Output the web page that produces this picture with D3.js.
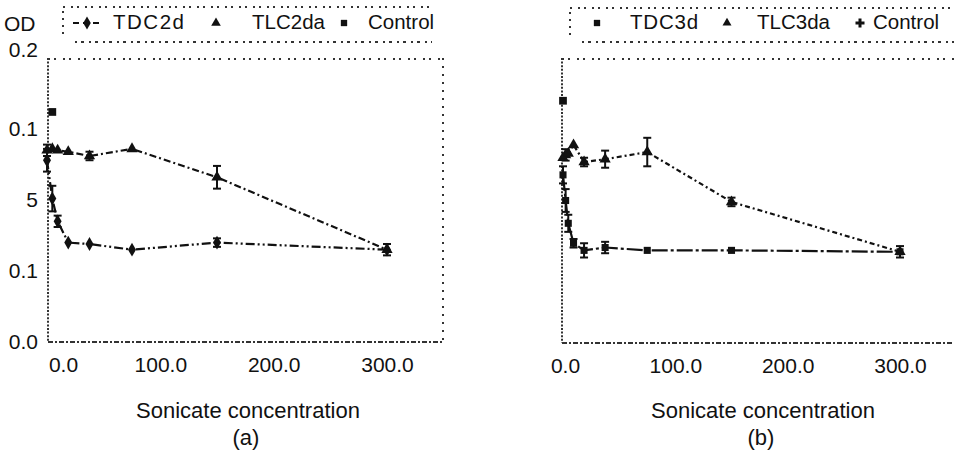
<!DOCTYPE html>
<html><head><meta charset="utf-8">
<script src="https://cdn.jsdelivr.net/npm/d3@7"></script>
<style>
html,body{margin:0;padding:0;background:#fff;}
svg{display:block;font-family:"Liberation Sans",Arial,sans-serif;}
</style></head>
<body>
<svg id="chart" width="954" height="453"></svg>
<script>
// ---------- data ----------
const concA = [0, 4.69, 9.38, 18.75, 37.5, 75, 150, 300];
const tdc2d = [0.128, 0.101, 0.085, 0.070, 0.069, 0.065, 0.070, 0.065];
const tdc2dErr = [0.008, 0.009, 0.004, 0, 0, 0, 0.003, 0];
const tlc2da = [0.135, 0.136, 0.135, 0.134, 0.131, 0.136, 0.116, 0.065];
const tlc2daErr = [0.004, 0, 0, 0, 0.003, 0, 0.008, 0.004];
const controlConcA = [4.69];
const controlA = [0.162];

const concB = [0, 2.34, 4.69, 9.38, 18.75, 37.5, 75, 150, 300];
const tdc3d = [0.118, 0.100, 0.084, 0.070, 0.065, 0.067, 0.065, 0.065, 0.064];
const tdc3dErr = [0.006, 0.008, 0.006, 0.003, 0.005, 0.004, 0, 0, 0];
const tlc3da = [0.130, 0.132, 0.133, 0.139, 0.127, 0.129, 0.134, 0.099, 0.064];
const tlc3daErr = [0, 0.004, 0, 0, 0.003, 0.006, 0.010, 0.003, 0.004];
const controlConcB = [0];
const controlB = [0.170];

const yTickValues = [0, 0.05, 0.1, 0.15, 0.2];
const yTickLabels = ["0.0", "0.1", "5", "0.1", "0.2"];
const xTickValues = [0, 100, 200, 300];
const xTickLabels = ["0.0", "100.0", "200.0", "300.0"];
const legendA = ["TDC2d", "TLC2da", "Control"];
const legendB = ["TDC3d", "TLC3da", "Control"];
const yTitle = "OD";
const xTitle = "Sonicate concentration";
const panelLabels = ["(a)", "(b)"];

// ---------- drawing ----------
const svg = d3.select("#chart");
const ink = "#111";
const frameCol = "#333";

function zip(xs, ys, es) { return xs.map((x, i) => ({x, y: ys[i], e: es ? es[i] : 0})); }

function drawPanel(cfg) {
  const g = svg.append("g");
  const x = d3.scaleLinear().domain([0, 300]).range([cfg.x0, cfg.x300]);
  const y = d3.scaleLinear().domain([0, 0.2]).range([cfg.yb, cfg.yt]);
  const xr = cfg.xRight;

  // frame (dotted)
  g.append("line").attr("x1", cfg.axX).attr("x2", cfg.axX).attr("y1", y(0.2)).attr("y2", y(0))
    .attr("stroke", frameCol).attr("stroke-width", 2).attr("stroke-dasharray", "2,1.6");
  g.append("line").attr("x1", cfg.axX).attr("x2", xr).attr("y1", y(0.2) + 1).attr("y2", y(0.2) + 1)
    .attr("stroke", frameCol).attr("stroke-width", 2).attr("stroke-dasharray", "2,4,2,7");
  g.append("line").attr("x1", cfg.axX).attr("x2", xr).attr("y1", y(0)).attr("y2", y(0))
    .attr("stroke", frameCol).attr("stroke-width", 2).attr("stroke-dasharray", "5,2,2,2");
  if (cfg.rightFrame) {
    g.append("line").attr("x1", xr).attr("x2", xr).attr("y1", y(0.2)).attr("y2", y(0))
      .attr("stroke", frameCol).attr("stroke-width", 2).attr("stroke-dasharray", "2,6");
  }

  // axes (labels only)
  const xAxis = d3.axisBottom(x).tickValues(xTickValues).tickSize(0)
    .tickFormat((d, i) => xTickLabels[i]);
  const gx = g.append("g").attr("transform", `translate(0,${y(0) + 12})`).call(xAxis);
  gx.select(".domain").remove();
  gx.selectAll("text").attr("font-size", 21).attr("fill", ink)
    .attr("font-family", "'Liberation Sans',Arial,sans-serif")
    .attr("dx", (d, i) => i === 0 ? cfg.firstTickDx : 0);

  if (cfg.yLabels) {
    const yAxis = d3.axisLeft(y).tickValues(yTickValues).tickSize(0)
      .tickFormat((d, i) => yTickLabels[i]);
    const gy = g.append("g").attr("transform", `translate(${cfg.axX - 7},0)`).call(yAxis);
    gy.select(".domain").remove();
    gy.selectAll("text").attr("font-size", 21).attr("fill", ink)
      .attr("font-family", "'Liberation Sans',Arial,sans-serif")
      .attr("dy", d => d === 0.2 ? "-0.05em" : "0.32em");
  }

  // series
  cfg.series.forEach(s => {
    const pts = zip(s.xs, s.ys, s.err);
    if (pts.length > 1) {
      g.append("path").datum(pts)
        .attr("d", d3.line().x(d => x(d.x)).y(d => y(d.y)))
        .attr("fill", "none").attr("stroke", ink).attr("stroke-width", 2.2)
        .attr("stroke-dasharray", s.dash);
    }
    // error bars
    const eb = g.append("g").attr("stroke", ink).attr("stroke-width", 2);
    pts.filter(d => d.e > 0).forEach(d => {
      eb.append("line").attr("x1", x(d.x)).attr("x2", x(d.x)).attr("y1", y(d.y - d.e)).attr("y2", y(d.y + d.e));
      eb.append("line").attr("x1", x(d.x) - 4).attr("x2", x(d.x) + 4).attr("y1", y(d.y - d.e)).attr("y2", y(d.y - d.e));
      eb.append("line").attr("x1", x(d.x) - 4).attr("x2", x(d.x) + 4).attr("y1", y(d.y + d.e)).attr("y2", y(d.y + d.e));
    });
    g.selectAll(null).data(pts).enter().append("path")
      .attr("transform", d => `translate(${x(d.x)},${y(d.y)})${s.rot ? " rotate(" + s.rot + ")" : ""}`)
      .attr("d", d3.symbol().type(s.symbol).size(s.size))
      .attr("fill", ink);
  });

  // axis title & panel label
  g.append("text").attr("x", cfg.titleX).attr("y", 418).attr("text-anchor", "middle")
    .attr("font-size", 22).attr("fill", ink).text(xTitle);
  g.append("text").attr("x", cfg.titleX - 2).attr("y", 445).attr("text-anchor", "middle")
    .attr("font-size", 22).attr("fill", ink).text(cfg.panelLabel);

  // legend
  const L = cfg.legend;
  const lg = svg.append("g");
  lg.append("line").attr("x1", L.x).attr("x2", L.xr).attr("y1", L.yt).attr("y2", L.yt)
    .attr("stroke", frameCol).attr("stroke-width", 2).attr("stroke-dasharray", "2,6,2,4");
  lg.append("line").attr("x1", L.x + 12).attr("x2", L.xr).attr("y1", L.yb).attr("y2", L.yb)
    .attr("stroke", frameCol).attr("stroke-width", 2).attr("stroke-dasharray", "2,4,3,5");
  lg.append("line").attr("x1", L.x).attr("x2", L.x).attr("y1", L.yt + 4).attr("y2", L.yb - 6)
    .attr("stroke", frameCol).attr("stroke-width", 2).attr("stroke-dasharray", "2,5");
  L.items.forEach((it, i) => {
    if (it.lineDash) {
      lg.append("line").attr("x1", it.mx - 14).attr("x2", it.mx + 14).attr("y1", 23).attr("y2", 23)
        .attr("stroke", ink).attr("stroke-width", 2).attr("stroke-dasharray", it.lineDash);
    }
    lg.append("path").attr("transform", `translate(${it.mx},23)`)
      .attr("d", d3.symbol().type(it.symbol).size(it.size)).attr("fill", ink);
    lg.append("text").attr("x", it.tx).attr("y", 29).attr("font-size", 20.5)
      .attr("fill", ink).attr("letter-spacing", it.ls || 0).text(cfg.legendNames[i]);
  });
}

svg.append("text").attr("x", 4).attr("y", 31).attr("font-size", 21).attr("fill", ink).text(yTitle);

drawPanel({
  x0: 47, x300: 387, axX: 48, xRight: 443, yb: 342, yt: 58, rightFrame: true,
  yLabels: true, firstTickDx: 16, titleX: 248, panelLabel: panelLabels[0],
  legendNames: legendA,
  series: [
    {xs: concA, ys: tlc2da, err: tlc2daErr, dash: "7,3,2,3", symbol: d3.symbolTriangle, size: 55},
    {xs: concA, ys: tdc2d, err: tdc2dErr, dash: "9,3,2,3,2,3", symbol: d3.symbolDiamond, size: 55},
    {xs: controlConcA, ys: controlA, err: null, dash: null, symbol: d3.symbolSquare, size: 60}
  ],
  legend: {x: 63, xr: 432, yt: 7, yb: 42, items: [
    {mx: 87, tx: 113, symbol: d3.symbolDiamond, size: 50, lineDash: "6,4", ls: 1.5},
    {mx: 216, tx: 252, symbol: d3.symbolTriangle, size: 40},
    {mx: 344, tx: 368, symbol: d3.symbolSquare, size: 40}
  ]}
});

drawPanel({
  x0: 563, x300: 900, axX: 562, xRight: 954, yb: 343, yt: 58, rightFrame: false,
  yLabels: false, firstTickDx: 2, titleX: 763, panelLabel: panelLabels[1],
  legendNames: legendB,
  series: [
    {xs: concB, ys: tlc3da, err: tlc3daErr, dash: "2,3,5,3", symbol: d3.symbolTriangle, size: 55},
    {xs: concB, ys: tdc3d, err: tdc3dErr, dash: "16,3,3,3", symbol: d3.symbolSquare, size: 50},
    {xs: controlConcB, ys: controlB, err: null, dash: null, symbol: d3.symbolSquare, size: 60}
  ],
  legend: {x: 570, xr: 954, yt: 8, yb: 42, items: [
    {mx: 597, tx: 630, symbol: d3.symbolSquare, size: 40, ls: 0.8},
    {mx: 727, tx: 757, symbol: d3.symbolTriangle, size: 35},
    {mx: 860, tx: 873, symbol: d3.symbolCross, size: 45}
  ]}
});
</script>
</body></html>
